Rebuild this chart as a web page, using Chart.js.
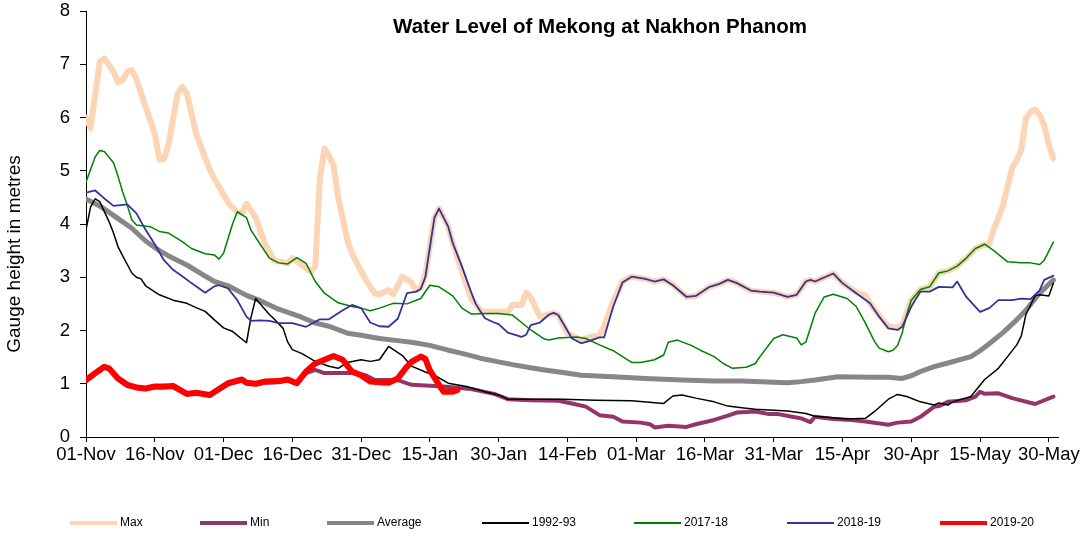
<!DOCTYPE html>
<html>
<head>
<meta charset="utf-8">
<script src="https://cdn.jsdelivr.net/npm/chart.js@4.4.1/dist/chart.umd.min.js"></script>
<style>
html,body{margin:0;padding:0;background:#ffffff;}
canvas{display:block;}
</style>
</head>
<body>
<canvas id="c" width="1089" height="537"></canvas>
<script>
// ---------- DATA (day index from 01-Nov, gauge height in metres) ----------
const chartTitle = 'Water Level of Mekong at Nakhon Phanom';
const yAxisTitle = 'Gauge height in metres';
const tickDays = [0,15,30,45,60,75,90,105,120,135,150,165,180,195,210];
const tickLabels = ['01-Nov','16-Nov','01-Dec','16-Dec','31-Dec','15-Jan','30-Jan','14-Feb','01-Mar','16-Mar','31-Mar','15-Apr','30-Apr','15-May','30-May'];
const seriesNames = ['Max','Min','Average','1992-93','2017-18','2018-19','2019-20'];

const maxPts = [[0,6.00],[1,5.80],[3,7.05],[4,7.11],[6,6.86],[7,6.66],[8,6.70],[9,6.86],[10,6.89],[11,6.72],[13,6.20],[15,5.70],[16,5.21],[17,5.22],[18,5.50],[20,6.45],[21,6.58],[22,6.45],[24,5.70],[27,5.02],[28,4.85],[31,4.40],[33,4.22],[34,4.20],[35,4.38],[37,4.12],[39,3.64],[41,3.32],[44,3.26],[45,3.36],[46,3.30],[49,3.10],[50,3.20],[51,4.85],[52,5.42],[53,5.28],[54,5.10],[55,4.50],[57,3.70],[58,3.45],[61,2.95],[63,2.70],[64,2.68],[66,2.76],[67,2.68],[69,3.01],[71,2.90],[72,2.76],[73,2.80],[74,3.05],[76,4.12],[77,4.29],[79,3.95],[80,3.64],[82,3.10],[84,2.60],[86,2.38],[87,2.35],[92,2.35],[93,2.48],[95,2.48],[96,2.71],[97,2.62],[99,2.26],[101,2.30],[102,2.33],[103,2.29],[105,1.95],[108,1.82],[110,1.88],[112,1.92],[113,2.07],[115,2.55],[117,2.92],[119,3.01],[122,2.97],[124,2.92],[126,2.96],[128,2.86],[131,2.63],[133,2.65],[136,2.82],[138,2.87],[140,2.95],[142,2.89],[145,2.75],[147,2.73],[150,2.71],[153,2.63],[155,2.67],[157,2.92],[158,2.95],[159,2.92],[163,3.07],[165,2.89],[168,2.72],[170,2.66],[171,2.51],[173,2.28],[175,2.08],[177,2.05],[178,2.10],[180,2.57],[182,2.77],[184,2.82],[186,3.08],[188,3.12],[190,3.21],[192,3.36],[194,3.54],[196,3.61],[197,3.62],[198,3.90],[200,4.35],[201,4.70],[202,5.05],[203,5.20],[204,5.40],[205,5.98],[206,6.10],[207,6.15],[208,6.05],[209,5.85],[210,5.48],[211,5.23]];

const minPts = [[0,1.05],[2,1.18],[4,1.30],[5,1.28],[7,1.08],[9,0.96],[11,0.92],[13,0.90],[15,0.93],[17,0.93],[19,0.94],[20,0.89],[22,0.80],[25,0.81],[27,0.78],[29,0.88],[31,0.99],[34,1.06],[35,1.01],[37,0.99],[39,1.02],[42,1.03],[44,1.06],[46,1.00],[47,1.10],[48,1.20],[50,1.26],[52,1.20],[58,1.20],[61,1.16],[63,1.07],[68,1.07],[71,0.98],[78,0.95],[84,0.90],[89,0.81],[92,0.71],[97,0.69],[103,0.68],[106,0.63],[109,0.57],[112,0.41],[115,0.38],[117,0.29],[121,0.27],[123,0.24],[124,0.18],[127,0.21],[131,0.19],[133,0.24],[137,0.32],[140,0.40],[142,0.46],[146,0.48],[149,0.43],[151,0.43],[154,0.38],[156,0.35],[158,0.28],[159,0.38],[163,0.34],[167,0.32],[170,0.29],[175,0.23],[177,0.27],[180,0.29],[182,0.38],[185,0.57],[186,0.58],[188,0.66],[192,0.69],[194,0.76],[195,0.85],[196,0.81],[199,0.82],[202,0.73],[207,0.62],[211,0.76]];

const avgPts = [[0,4.47],[3,4.34],[7,4.10],[10,3.92],[13,3.68],[16,3.50],[18,3.40],[22,3.23],[26,3.02],[28,2.92],[31,2.84],[35,2.66],[38,2.56],[42,2.40],[47,2.25],[50,2.14],[53,2.08],[57,1.95],[60,1.91],[64,1.85],[68,1.81],[71,1.78],[75,1.72],[79,1.63],[82,1.57],[86,1.48],[90,1.41],[93,1.36],[97,1.30],[100,1.26],[104,1.21],[108,1.16],[115,1.13],[122,1.10],[130,1.07],[137,1.05],[143,1.05],[146,1.04],[150,1.03],[153,1.02],[156,1.04],[159,1.07],[164,1.13],[171,1.12],[175,1.12],[178,1.10],[180,1.15],[182,1.23],[185,1.32],[188,1.39],[193,1.51],[195,1.62],[197,1.75],[200,1.96],[203,2.20],[205,2.38],[208,2.70],[211,2.95]];

const y1992Pts = [[0,3.89],[1,4.32],[2,4.47],[3,4.42],[5,4.05],[6,3.83],[7,3.57],[8,3.40],[10,3.08],[11,3.00],[12,2.97],[13,2.84],[16,2.67],[19,2.57],[22,2.51],[24,2.43],[26,2.36],[28,2.20],[30,2.05],[32,1.98],[35,1.77],[36,2.25],[37,2.60],[39,2.40],[40,2.30],[41,2.22],[43,2.04],[44,1.78],[45,1.64],[47,1.57],[50,1.42],[53,1.33],[55,1.29],[57,1.40],[60,1.45],[62,1.42],[64,1.45],[66,1.70],[69,1.53],[71,1.33],[74,1.22],[76,1.16],[79,1.01],[83,0.95],[87,0.85],[90,0.79],[92,0.71],[97,0.71],[104,0.71],[111,0.69],[119,0.68],[126,0.63],[128,0.77],[130,0.79],[133,0.73],[137,0.66],[140,0.58],[143,0.55],[146,0.52],[153,0.49],[157,0.44],[159,0.39],[163,0.36],[166,0.34],[170,0.35],[172,0.48],[175,0.71],[177,0.80],[179,0.76],[182,0.66],[185,0.60],[186,0.64],[188,0.60],[189,0.66],[193,0.76],[196,1.08],[199,1.29],[201,1.51],[203,1.73],[204,1.90],[205,2.30],[207,2.65],[208,2.67],[210,2.65],[211,2.89]];

const y2017Pts = [[0,4.79],[2,5.26],[3,5.38],[4,5.36],[6,5.15],[7,4.89],[8,4.60],[9,4.35],[10,4.08],[11,3.98],[14,3.95],[16,3.86],[18,3.83],[21,3.67],[23,3.54],[26,3.44],[28,3.42],[29,3.34],[30,3.45],[32,4.01],[33,4.23],[35,4.12],[36,3.88],[38,3.62],[40,3.36],[42,3.27],[44,3.25],[46,3.37],[48,3.26],[50,2.92],[52,2.70],[55,2.52],[58,2.45],[60,2.42],[62,2.37],[64,2.42],[67,2.51],[70,2.50],[73,2.60],[75,2.85],[77,2.82],[80,2.65],[82,2.42],[84,2.31],[87,2.32],[90,2.32],[93,2.29],[95,2.15],[97,2.01],[100,1.84],[101,1.82],[103,1.86],[107,1.88],[109,1.85],[112,1.73],[115,1.62],[117,1.51],[119,1.40],[121,1.40],[124,1.45],[126,1.54],[127,1.78],[129,1.82],[132,1.72],[134,1.63],[137,1.51],[139,1.38],[141,1.29],[144,1.31],[146,1.38],[147,1.51],[150,1.85],[152,1.92],[155,1.86],[156,1.73],[157,1.78],[159,2.32],[161,2.63],[163,2.68],[166,2.60],[168,2.45],[170,2.14],[172,1.79],[173,1.67],[175,1.60],[176,1.63],[177,1.72],[178,1.95],[179,2.30],[180,2.57],[182,2.77],[184,2.82],[186,3.08],[188,3.12],[190,3.21],[192,3.36],[194,3.54],[196,3.62],[198,3.50],[201,3.29],[204,3.27],[206,3.27],[208,3.24],[209,3.32],[211,3.66]];

const y2018Pts = [[0,4.59],[2,4.63],[4,4.48],[6,4.34],[8,4.36],[9,4.37],[11,4.20],[13,3.89],[15,3.62],[17,3.32],[19,3.14],[21,3.02],[23,2.89],[26,2.71],[28,2.83],[29,2.85],[31,2.79],[33,2.57],[35,2.26],[36,2.18],[38,2.19],[40,2.18],[42,2.14],[45,2.14],[48,2.07],[51,2.21],[53,2.21],[56,2.38],[58,2.48],[60,2.42],[62,2.15],[64,2.08],[66,2.07],[68,2.22],[70,2.70],[72,2.73],[73,2.78],[74,3.00],[76,4.12],[77,4.29],[79,3.95],[80,3.64],[82,3.20],[84,2.72],[85,2.50],[87,2.23],[89,2.15],[90,2.12],[92,1.96],[95,1.88],[96,1.92],[97,2.10],[99,2.15],[101,2.30],[102,2.33],[103,2.29],[106,1.85],[108,1.76],[110,1.81],[112,1.87],[113,1.87],[115,2.45],[117,2.90],[119,3.01],[122,2.97],[124,2.92],[126,2.96],[128,2.85],[131,2.63],[133,2.65],[136,2.82],[138,2.87],[140,2.95],[142,2.89],[145,2.75],[147,2.73],[150,2.71],[153,2.63],[155,2.67],[157,2.92],[158,2.95],[159,2.92],[163,3.07],[165,2.89],[168,2.70],[171,2.51],[173,2.26],[175,2.04],[177,2.01],[178,2.07],[180,2.45],[182,2.73],[184,2.73],[186,2.82],[189,2.81],[190,2.92],[192,2.63],[195,2.35],[197,2.42],[199,2.57],[202,2.57],[204,2.60],[206,2.59],[208,2.76],[209,2.95],[211,3.03]];

const y2019Pts = [[0,1.07],[2,1.20],[4,1.32],[5,1.29],[7,1.10],[9,0.98],[11,0.93],[13,0.91],[15,0.95],[17,0.95],[19,0.96],[20,0.91],[22,0.81],[24,0.83],[27,0.79],[29,0.90],[31,1.01],[34,1.08],[35,1.02],[37,1.00],[39,1.04],[42,1.05],[44,1.08],[46,1.01],[48,1.23],[50,1.38],[52,1.45],[54,1.52],[56,1.45],[58,1.23],[60,1.16],[62,1.04],[64,1.03],[66,1.02],[68,1.10],[70,1.32],[71,1.41],[73,1.51],[74,1.47],[75,1.25],[77,0.98],[78,0.85],[80,0.85],[81,0.88]];

const seriesPoints = [maxPts, minPts, avgPts, y1992Pts, y2017Pts, y2018Pts, y2019Pts];

// ---------- STYLE ----------
const seriesColors = ['#FCD5B5','#953567','#878787','#000000','#008000','#333399','#FF0000'];
const seriesWidths = [6, 4, 5, 1.5, 1.5, 1.8, 6];
const legendWidths = [4, 4, 4, 2, 2, 2, 4];
const legendStarts = [70, 200, 327, 482, 634, 787, 940];
const FONT = '"Liberation Sans", Arial, Helvetica, sans-serif';

Chart.defaults.font.family = FONT;
Chart.defaults.color = '#000';

const datasets = seriesNames.map((name, i) => ({
  label: name,
  data: seriesPoints[i].map(([d, v]) => ({x: d, y: v})),
  borderColor: seriesColors[i],
  backgroundColor: seriesColors[i],
  borderWidth: seriesWidths[i],
  pointRadius: 0,
  pointHoverRadius: 0,
  tension: 0,
  fill: false,
  borderJoinStyle: 'round',
  borderCapStyle: 'round',
  order: seriesNames.length - 1 - i
}));

const decor = {
  id: 'decor',
  afterDraw(chart) {
    const ctx = chart.ctx;
    ctx.save();
    ctx.fillStyle = '#000';
    // title
    ctx.font = 'bold 20.5px ' + FONT;
    ctx.textAlign = 'center';
    ctx.textBaseline = 'alphabetic';
    ctx.fillText(chartTitle, 600, 33);
    // y axis title
    ctx.save();
    ctx.translate(15, 254);
    ctx.rotate(-Math.PI / 2);
    ctx.font = '19px ' + FONT;
    ctx.textAlign = 'center';
    ctx.textBaseline = 'middle';
    ctx.fillText(yAxisTitle, 0, 0);
    ctx.restore();
    // legend
    ctx.font = '12px ' + FONT;
    ctx.textAlign = 'left';
    ctx.textBaseline = 'middle';
    const ly = 523;
    chart.data.datasets.forEach((ds, i) => {
      const x0 = legendStarts[i];
      ctx.beginPath();
      ctx.lineCap = 'butt';
      ctx.strokeStyle = ds.borderColor;
      ctx.lineWidth = legendWidths[i];
      ctx.moveTo(x0, ly);
      ctx.lineTo(x0 + 47, ly);
      ctx.stroke();
      ctx.fillStyle = '#000';
      ctx.fillText(ds.label, x0 + 50, ly);
    });
    ctx.restore();
  }
};

new Chart(document.getElementById('c'), {
  type: 'line',
  data: { datasets },
  plugins: [decor],
  options: {
    responsive: false,
    devicePixelRatio: 1,
    animation: false,
    events: [],
    layout: { padding: { top: 11, right: 31, bottom: 45, left: 0 } },
    plugins: {
      legend: { display: false },
      title: { display: false },
      tooltip: { enabled: false }
    },
    scales: {
      x: {
        type: 'linear',
        min: 0,
        max: 212,
        afterBuildTicks: (s) => { s.ticks = tickDays.map(v => ({ value: v })); },
        afterFit: (s) => { s.height = 55; },
        ticks: {
          autoSkip: false,
          maxRotation: 0,
          minRotation: 0,
          padding: 2,
          font: { size: 18.5 },
          color: '#000',
          callback: (v, idx) => tickLabels[idx]
        },
        grid: { display: true, drawOnChartArea: false, drawTicks: true, tickLength: 5, color: '#000', lineWidth: 1 },
        border: { display: true, color: '#000', width: 1 }
      },
      y: {
        min: 0,
        max: 8,
        afterFit: (s) => { s.width = 86; s.paddingTop = 0; s.paddingBottom = 0; },
        ticks: {
          stepSize: 1,
          padding: 10,
          font: { size: 18.5 },
          color: '#000'
        },
        grid: { display: true, drawOnChartArea: false, drawTicks: true, tickLength: 6, color: '#000', lineWidth: 1 },
        border: { display: true, color: '#000', width: 1 }
      }
    }
  }
});
</script>
</body>
</html>
